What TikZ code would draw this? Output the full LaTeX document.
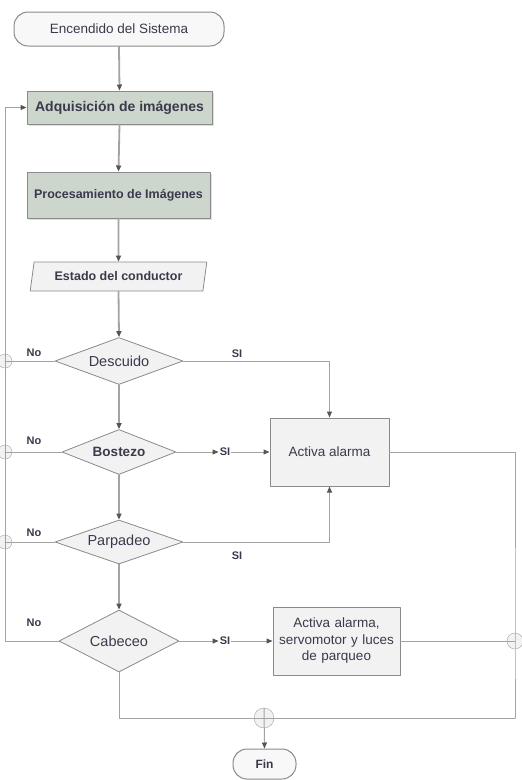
\documentclass[tikz,border=0pt]{standalone}
\usepackage{fontspec}
\setmainfont{Liberation Sans}
\usetikzlibrary{arrows.meta}
\usetikzlibrary{shapes.geometric}
\usetikzlibrary{shadows}
\definecolor{linea}{HTML}{A3A3A3}
\definecolor{punta}{HTML}{555555}
\definecolor{borde}{HTML}{8A8A8A}
\definecolor{verdegris}{HTML}{CDD6CC}
\definecolor{grisclaro}{HTML}{F2F2F2}
\definecolor{texto}{HTML}{3A3A4C}
\newcommand{\letra}[1]{\fontsize{#1}{#1}\selectfont}

\begin{document}
\begin{tikzpicture}[line cap=round,line join=round,>={Triangle[length=6pt,width=5pt,color=punta]},x=1pt,y=-1pt,
  caja/.style={rectangle,draw=borde,line width=1pt,fill=grisclaro,inner sep=0pt,text=texto,align=center},
  etapa/.style={caja,fill=verdegris,drop shadow={shadow xshift=1.5pt,shadow yshift=-1.5pt,opacity=.25}},
  term/.style={caja,rounded corners=14pt,fill=grisclaro!50!white},
  datos/.style={trapezium,trapezium left angle=72,trapezium right angle=108,trapezium stretches=true,
    draw=borde,fill=grisclaro,inner sep=0pt,text=texto,line width=.8pt},
  decision/.style={diamond,aspect=2.6,draw=borde,fill=grisclaro,inner sep=0pt,text=texto,line width=.8pt,font=\letra{14.5}},
  union/.style={circle,draw=linea,fill=grisclaro,inner sep=0pt,minimum size=#1},
  etiq/.style={text=texto,inner sep=1pt,font=\bfseries\letra{11}},
  flujo/.style={draw=linea,line width=1.8pt},
  rama/.style={draw=linea,line width=1pt}]
\useasboundingbox (0,0) rectangle (522,780);

\node[term,minimum width=210,minimum height=34,font=\letra{13.5}] (inicio) at (119,29) {Encendido del Sistema};
\node[etapa,minimum width=185,minimum height=33,font=\bfseries\letra{14}] (adq) at (119.5,107.5) {Adquisición de imágenes};
\node[etapa,minimum width=183,minimum height=46,font=\bfseries\letra{12.5}] (proc) at (118.5,195) {Procesamiento de Imágenes};
\node[datos,minimum width=177,minimum height=29,font=\bfseries\letra{12.5}] (estado) at (118.5,276.5) {Estado del conductor};

\node[decision,minimum width=128,minimum height=47] (desc) at (119,361) {Descuido};
\node[decision,minimum width=114,minimum height=45,font=\bfseries\letra{13.5}] (bost) at (119,452) {Bostezo};
\node[decision,minimum width=128,minimum height=44] (parp) at (119,542) {Parpadeo};
\node[decision,minimum width=120,minimum height=62] (cab) at (119,641) {Cabeceo};

\node[caja,minimum width=119,minimum height=68,font=\letra{13.5}] (alarma) at (329.5,452) {Activa alarma};
\node[caja,minimum width=127,minimum height=68,font=\letra{13.5},text width=125] (alarma2) at (336.5,641)
  {Activa alarma,\\[3pt]servomotor y luces\\[3pt]de parqueo};
\node[term,minimum width=63,minimum height=30,font=\bfseries\letra{12}] (fin) at (264.5,764) {Fin};

\node[union=14] (uA) at (5,361) {};
\node[union=14] (uB) at (5,452) {};
\node[union=14] (uC) at (5,542) {};
\node[union=16] (uD) at (515,641) {};
\node[union=20] (uF) at (264,718) {};
\coordinate (izq) at (5,641);
\coordinate (der) at (515,718);

\node[etiq] at (34,353) {No};
\node[etiq] at (34,441) {No};
\node[etiq] at (34,533) {No};
\node[etiq] at (34,623) {No};
\node[etiq] (siA) at (237,354) {SI};
\node[etiq] (siB) at (225,452) {SI};
\node[etiq] (siP) at (237,556) {SI};
\node[etiq] (siC) at (225,641) {SI};

\draw[flujo,->] (inicio.south) -- (adq.north);
\draw[flujo,->] (adq.south) -- (proc.north);
\draw[flujo,->] (proc.south) -- (estado.north);
\draw[flujo,->] (estado.south) -- (desc.north);
\draw[flujo,->] (desc.south) -- (bost.north);
\draw[flujo,->] (bost.south) -- (parp.north);
\draw[flujo,->] (parp.south) -- (cab.north);

\draw[rama] (desc.west) -- (uA.center);
\draw[rama] (bost.west) -- (uB.center);
\draw[rama] (parp.west) -- (uC.center);
\draw[rama,->] (cab.west) -- (izq) |- (adq.west);

\draw[rama,->] (desc.east) -| (alarma.north);
\draw[rama,->] (bost.east) -- (siB.west);
\draw[rama,->] (siB.east) -- (alarma.west);
\draw[rama,->] (parp.east) -| (alarma.south);
\draw[rama,->] (cab.east) -- (siC.west);
\draw[rama,->] (siC.east) -- (alarma2.west);

\draw[rama] (alarma.east) -| (uD.center) -- (der);
\draw[rama] (alarma2.east) -- (uD.center);
\draw[rama] (cab.south) |- (der);
\draw[rama,->] (uF.north) -- (fin.north);
\end{tikzpicture}
\end{document}
